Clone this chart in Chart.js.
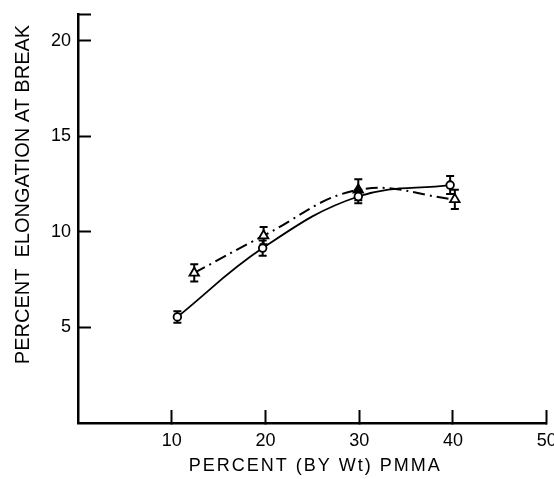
<!DOCTYPE html>
<html><head><meta charset="utf-8">
<script src="https://cdn.jsdelivr.net/npm/chart.js@4"></script>
<style>html,body{margin:0;padding:0;background:#fff;} canvas{display:block;}</style>
</head><body>
<canvas id="c" width="554" height="479"></canvas>
<script>
// ---- data ----
const xTicks = [10, 20, 30, 40, 50];
const yTicks = [5, 10, 15, 20];
const xAxisMin = 0, xAxisMax = 50;
const yAxisMin = 0, yAxisMax = 21.4;

const circleX   = [10.6, 19.7, 29.9, 39.7];
const circleY   = [5.55, 9.15, 11.85, 12.45];
const circleErr = [0.3, 0.4, 0.35, 0.47];

const triangleX   = [12.4, 19.8, 29.9, 40.2];
const triangleY   = [7.85, 9.8, 12.2, 11.7];
const triangleErr = [0.45, 0.45, 0.55, 0.5];

const xTitle = 'PERCENT (BY Wt) PMMA';
const yTitle = 'PERCENT  ELONGATION AT BREAK';

const FONT = '"Liberation Sans", Arial, Helvetica, sans-serif';

function pts(xs, ys) { return xs.map((x, i) => ({x: x, y: ys[i]})); }

const errorBars = {
  id: 'errorBars',
  beforeDatasetsDraw(chart) {
    const ctx = chart.ctx, xs = chart.scales.x, ys = chart.scales.y;
    ctx.save();
    ctx.strokeStyle = '#000';
    ctx.lineWidth = 2;
    chart.data.datasets.forEach(ds => {
      const errs = ds.errorValues;
      if (!errs) return;
      ds.data.forEach((p, i) => {
        const px = xs.getPixelForValue(p.x);
        const y1 = ys.getPixelForValue(p.y - errs[i]);
        const y2 = ys.getPixelForValue(p.y + errs[i]);
        ctx.beginPath();
        ctx.moveTo(px, y1); ctx.lineTo(px, y2);
        ctx.moveTo(px - 4, y1); ctx.lineTo(px + 4, y1);
        ctx.moveTo(px - 4, y2); ctx.lineTo(px + 4, y2);
        ctx.stroke();
      });
    });
    ctx.restore();
  }
};

const titleStyle = {
  id: 'titleStyle',
  beforeDraw(chart) {
    const sx = chart.scales.x, sy = chart.scales.y;
    if (!sx._patched) {
      const orig = Object.getPrototypeOf(sx).drawTitle;
      sx.drawTitle = function () {
        const c = this.ctx; c.save(); c.letterSpacing = '2px'; c.translate(3, 0);
        orig.call(this); c.restore();
      };
      sx._patched = true;
    }
    if (!sy._patched) {
      const orig = Object.getPrototypeOf(sy).drawTitle;
      sy.drawTitle = function () {
        const c = this.ctx; c.save(); c.translate(0, -24);
        orig.call(this); c.restore();
      };
      sy._patched = true;
    }
  }
};

new Chart(document.getElementById('c'), {
  type: 'line',
  data: {
    datasets: [
      {
        label: 'circles',
        data: pts(circleX, circleY),
        errorValues: circleErr,
        borderColor: '#000',
        borderWidth: 1.8,
        tension: 0.4,
        pointStyle: 'circle',
        pointRadius: 3.8,
        pointBorderWidth: 1.8,
        pointBorderColor: '#000',
        pointBackgroundColor: '#fff',
        fill: false
      },
      {
        label: 'triangles',
        data: pts(triangleX, triangleY),
        errorValues: triangleErr,
        borderColor: '#000',
        borderWidth: 2,
        borderDash: [12, 5, 2, 5],
        tension: 0.4,
        pointStyle: 'triangle',
        pointRadius: 5.5,
        pointBorderWidth: 1.8,
        pointBorderColor: '#000',
        pointBackgroundColor: ['#fff', '#fff', '#000', '#fff'],
        fill: false
      }
    ]
  },
  options: {
    responsive: false,
    animation: false,
    events: [],
    clip: false,
    layout: { padding: { top: 14, right: 3, left: 0, bottom: 0 } },
    plugins: { legend: { display: false }, tooltip: { enabled: false } },
    scales: {
      x: {
        type: 'linear',
        min: xAxisMin, max: xAxisMax,
        afterBuildTicks(s) { s.ticks = xTicks.map(v => ({value: v})); },
        afterFit(s) { s.height = 56; s.paddingLeft = 0; s.paddingRight = 0; },
        border: { display: true, color: '#000', width: 2.5 },
        grid: { display: true, drawOnChartArea: false, drawTicks: true, tickLength: -13, tickWidth: 2, tickColor: '#000' },
        ticks: { color: '#000', padding: 20, font: { family: FONT, size: 18 }, maxRotation: 0, autoSkip: false },
        title: { display: true, text: xTitle, color: '#000', font: { family: FONT, size: 18 }, padding: { top: 0, bottom: 2 } }
      },
      y: {
        type: 'linear',
        min: yAxisMin, max: yAxisMax,
        afterBuildTicks(s) { s.ticks = yTicks.concat([yAxisMax]).map(v => ({value: v})); },
        afterFit(s) { s.width = 78; s.paddingTop = 0; s.paddingBottom = 0; },
        border: { display: true, color: '#000', width: 2.5 },
        grid: { display: true, drawOnChartArea: false, drawTicks: true, tickLength: -13, tickWidth: 2, tickColor: '#000' },
        ticks: {
          color: '#000', padding: 20, font: { family: FONT, size: 18 }, autoSkip: false,
          callback: (v) => (yTicks.includes(v) ? String(v) : '')
        },
        title: { display: true, text: yTitle, color: '#000', font: { family: FONT, size: 20 }, padding: { top: 11, bottom: 0 } }
      }
    }
  },
  plugins: [errorBars, titleStyle]
});
</script>
</body></html>
